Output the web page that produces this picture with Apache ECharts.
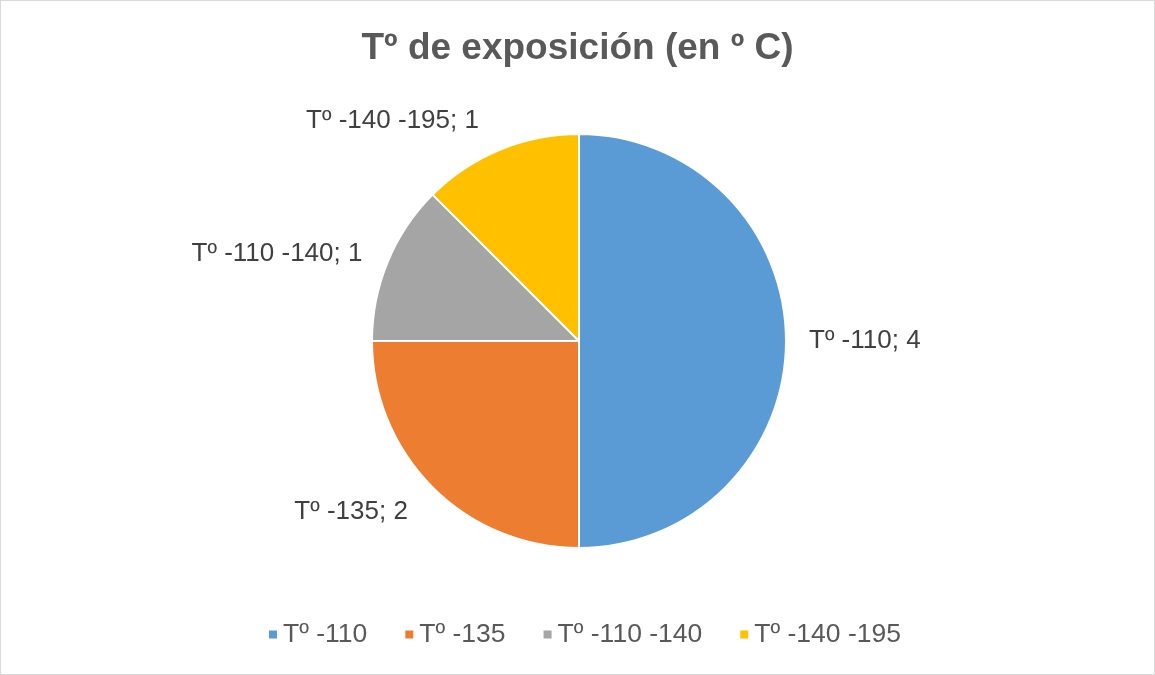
<!DOCTYPE html>
<html>
<head>
<meta charset="utf-8">
<script src="https://cdn.jsdelivr.net/npm/echarts@6/dist/echarts.min.js"></script>
<style>
  html, body { margin: 0; padding: 0; background: #fff; }
  #chart { width: 1153px; height: 673px; border: 1px solid #d9d9d9; }
</style>
</head>
<body>
<div id="chart"></div>
<script>
// data
const categories = ['Tº -110', 'Tº -135', 'Tº -110 -140', 'Tº -140 -195']
const values = [4, 2, 1, 1]
const colors = ['#5B9BD5', '#ED7D31', '#A5A5A5', '#FFC000']

var myChart = echarts.init(document.getElementById('chart'))

// excel "best fit" puts each label a bit differently, nudge line lengths per slice
var lineLen = { 'Tº -110': [14, 4, 5], 'Tº -135': [35, 0, 0], 'Tº -110 -140': [22, 0, 5], 'Tº -140 -195': [31, 4, 5] }

var pieData = categories.map(function (name, i) {
  return {
    name: name,
    value: values[i],
    itemStyle: { color: colors[i] },
    label: { distanceToLabelLine: lineLen[name][2] },
    labelLine: { length: lineLen[name][0], length2: lineLen[name][1] }
  }
})

var option = {
  backgroundColor: '#fff',
  animation: false,
  title: {
    text: 'Tº de exposición (en º C)',
    left: 'center',
    top: 24,
    textStyle: {
      fontFamily: 'Liberation Sans',
      fontSize: 37,
      fontWeight: 'bold',
      color: '#595959'
    }
  },
  legend: {
    bottom: 21,
    left: 261,
    icon: 'rect',
    itemWidth: 10,
    itemHeight: 10,
    itemGap: 36,
    textStyle: {
      fontFamily: 'Liberation Sans',
      fontSize: 26.5,
      color: '#595959'
    },
    data: categories
  },
  series: [
    {
      type: 'pie',
      center: [578, 340],
      radius: 207,
      startAngle: 90,
      clockwise: true,
      data: pieData,
      itemStyle: { borderColor: '#fff', borderWidth: 2 },
      label: {
        show: true,
        position: 'outside',
        formatter: '{b}; {c}',
        fontFamily: 'Liberation Sans',
        fontSize: 26,
        color: '#404040'
      },
      labelLine: { show: false },
      emphasis: { disabled: true }
    }
  ]
}
myChart.setOption(option)
</script>
</body>
</html>
